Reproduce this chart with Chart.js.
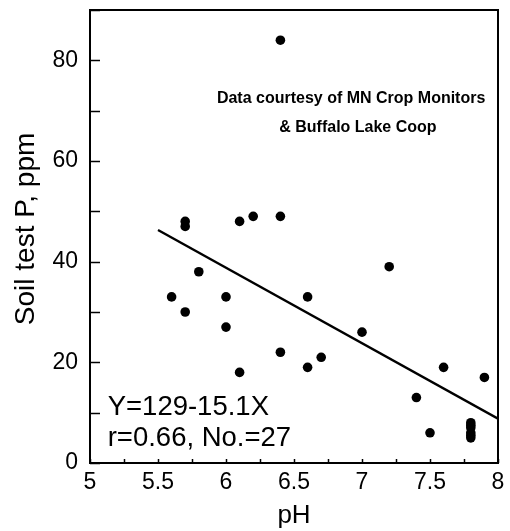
<!DOCTYPE html>
<html>
<head>
<meta charset="utf-8">
<script src="https://cdn.jsdelivr.net/npm/chart.js@4/dist/chart.umd.min.js"></script>
<style>
  html, body { margin: 0; padding: 0; background: #fff; }
  #wrap { width: 510px; height: 531px; }
</style>
</head>
<body>
<div id="wrap"><canvas id="c" width="510" height="531"></canvas></div>
<script>
// ---- data ----
const phValues = [5.6, 5.7, 5.7, 5.7, 5.8, 6.0, 6.0, 6.1, 6.1, 6.2, 6.4, 6.4, 6.4, 6.6, 6.6, 6.7, 7.0, 7.2, 7.4, 7.5, 7.6, 7.8, 7.8, 7.8, 7.8, 7.8, 7.8, 7.9];
const soilP    = [33, 30, 48, 47, 38, 33, 27, 18, 48, 49, 84, 49, 22, 33, 19, 21, 26, 39, 13, 6, 19, 5, 5.5, 6, 7, 7.5, 8, 17];
const fitX = [5.5, 8.0];
const fitY = [46.3, 8.8];
const xTickLabels = ['5', '5.5', '6', '6.5', '7', '7.5', '8'];
const yTickLabels = ['0', '20', '40', '60', '80'];
const note1 = 'Data courtesy of MN Crop Monitors';
const note2 = '& Buffalo Lake Coop';
const eqText = 'Y=129-15.1X';
const statText = 'r=0.66, No.=27';
const xTitle = 'pH';
const yTitle = 'Soil test P, ppm';

const FONT = "'Liberation Sans', Arial, Helvetica, sans-serif";

const points = phValues.map((x, i) => ({ x: x, y: soilP[i] }));
const fitLine = fitX.map((x, i) => ({ x: x, y: fitY[i] }));

const framePlugin = {
  id: 'frame',
  afterDraw(chart) {
    const ctx = chart.ctx;
    const a = chart.chartArea;
    const xs = chart.scales.x, ys = chart.scales.y;
    ctx.save();
    ctx.strokeStyle = '#000';
    ctx.lineWidth = 2;
    ctx.strokeRect(a.left, a.top, a.right - a.left, a.bottom - a.top);
    // inward tick marks
    ctx.lineWidth = 1.5;
    ys.ticks.forEach(t => {
      const py = Math.round(ys.getPixelForValue(t.value)) + 0.5;
      ctx.beginPath(); ctx.moveTo(a.left, py); ctx.lineTo(a.left + 10, py); ctx.stroke();
    });
    xs.ticks.forEach(t => {
      const px = Math.round(xs.getPixelForValue(t.value)) + 0.5;
      ctx.beginPath(); ctx.moveTo(px, a.bottom); ctx.lineTo(px, a.bottom - 4); ctx.stroke();
    });
    // annotations
    ctx.fillStyle = '#000';
    ctx.textAlign = 'center';
    ctx.textBaseline = 'middle';
    ctx.font = 'bold 16px ' + FONT;
    ctx.fillText(note1, xs.getPixelForValue(6.92), ys.getPixelForValue(72.3));
    ctx.fillText(note2, xs.getPixelForValue(6.97), ys.getPixelForValue(66.6));
    ctx.textAlign = 'left';
    ctx.font = '27.5px ' + FONT;
    ctx.fillText(eqText, xs.getPixelForValue(5.13), ys.getPixelForValue(11.0));
    ctx.fillText(statText, xs.getPixelForValue(5.13), ys.getPixelForValue(4.8));
    // y axis title
    ctx.save();
    ctx.translate(26, ys.getPixelForValue(46.5));
    ctx.rotate(-Math.PI / 2);
    ctx.textAlign = 'center';
    ctx.font = '28px ' + FONT;
    ctx.fillText(yTitle, 0, 0);
    ctx.restore();
    ctx.restore();
  }
};

new Chart(document.getElementById('c'), {
  type: 'scatter',
  data: {
    datasets: [
      {
        type: 'scatter',
        data: points,
        backgroundColor: '#000',
        borderColor: '#000',
        borderWidth: 0,
        pointRadius: 4.8,
        pointHoverRadius: 4.8
      },
      {
        type: 'line',
        data: fitLine,
        borderColor: '#000',
        borderWidth: 2.4,
        pointRadius: 0,
        fill: false,
        tension: 0
      }
    ]
  },
  options: {
    responsive: false,
    animation: false,
    events: [],
    layout: { padding: { top: 10, right: 12, left: 0, bottom: 0 } },
    plugins: { legend: { display: false }, tooltip: { enabled: false }, title: { display: false } },
    scales: {
      x: {
        type: 'linear',
        min: 5, max: 8,
        afterFit(s) { s.height = 68; s.paddingLeft = 0; s.paddingRight = 0; },
        grid: { display: false, drawTicks: false },
        border: { display: false },
        ticks: {
          stepSize: 0.25,
          autoSkip: false,
          maxRotation: 0,
          padding: 6,
          color: '#000',
          font: { family: FONT, size: 23 },
          callback(v) {
            const lbl = xTickLabels.find(s => Math.abs(parseFloat(s) - v) < 1e-6);
            return lbl === undefined ? '' : lbl;
          }
        },
        title: { display: true, text: xTitle, color: '#000', font: { family: FONT, size: 26 }, padding: { top: 0, bottom: 0 } }
      },
      y: {
        type: 'linear',
        min: 0, max: 90,
        afterFit(s) { s.width = 90; s.paddingTop = 0; s.paddingBottom = 0; },
        grid: { display: false, drawTicks: false },
        border: { display: false },
        ticks: {
          stepSize: 10,
          autoSkip: false,
          padding: 12,
          color: '#000',
          font: { family: FONT, size: 23 },
          callback(v) {
            const lbl = yTickLabels.find(s => Math.abs(parseFloat(s) - v) < 1e-6);
            return lbl === undefined ? '' : lbl;
          }
        },
        title: { display: false }
      }
    }
  },
  plugins: [framePlugin]
});
</script>
</body>
</html>
